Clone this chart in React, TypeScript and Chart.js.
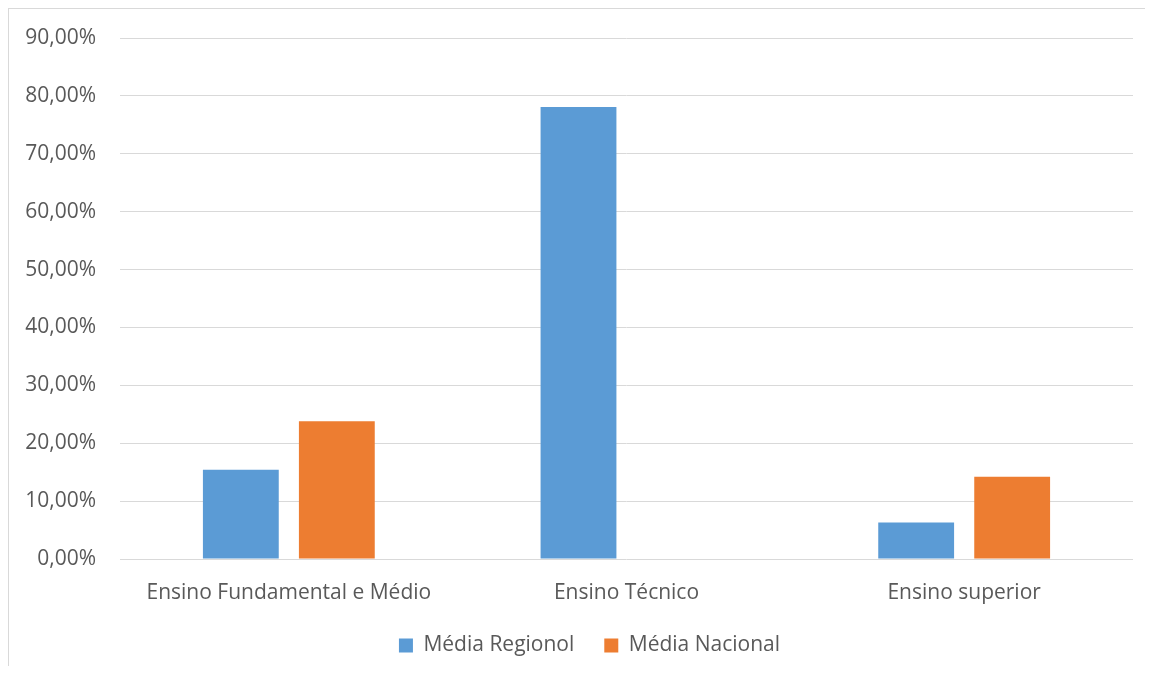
import React, { useEffect, useRef } from "react";
import { Chart, registerables } from "chart.js";

Chart.register(...registerables);

const categories = ["Ensino Fundamental e Médio", "Ensino Técnico", "Ensino superior"];
const seriesNames = ["Média Regionol", "Média Nacional"];
const mediaRegional = [15.4, 78.1, 6.3];
const mediaNacional = [23.8, 0, 14.2];
const yTicksMax = 90;
const yTickStep = 10;

const BLUE = "#5B9BD5";
const ORANGE = "#ED7D31";
const GRID = "#D9D9D9";
const TEXT = "#595959";
const FONT = "'Open Sans', sans-serif";

export default function App() {
  const ref = useRef<HTMLCanvasElement | null>(null);

  useEffect(() => {
    if (!ref.current) return;
    const chart = new Chart(ref.current, {
      type: "bar",
      data: {
        labels: categories,
        datasets: [
          {
            label: seriesNames[0],
            data: mediaRegional,
            backgroundColor: BLUE,
            borderWidth: 0,
            categoryPercentage: 0.5686,
            barPercentage: 0.79,
          },
          {
            label: seriesNames[1],
            data: mediaNacional,
            backgroundColor: ORANGE,
            borderWidth: 0,
            categoryPercentage: 0.5686,
            barPercentage: 0.79,
          },
        ],
      },
      options: {
        animation: false,
        responsive: false,
        maintainAspectRatio: false,
        layout: { padding: { top: 29, right: 0, bottom: 0, left: 0 } },
        plugins: {
          legend: {
            position: "bottom",
            labels: {
              color: TEXT,
              font: { family: FONT, size: 21 },
              boxWidth: 14,
              boxHeight: 14,
              padding: 30,
            },
          },
          tooltip: { enabled: false },
        },
        scales: {
          x: {
            grid: { display: false },
            border: { display: false },
            ticks: {
              color: TEXT,
              font: { family: FONT, size: 21 },
              padding: 13,
              maxRotation: 0,
            },
            afterFit: (s: any) => {
              s.height = 46;
            },
          },
          y: {
            min: 0,
            max: yTicksMax,
            border: { display: false },
            grid: {
              color: GRID,
              lineWidth: 1,
              drawTicks: true,
              tickLength: 24,
              tickColor: "rgba(0,0,0,0)",
            },
            ticks: {
              stepSize: yTickStep,
              color: TEXT,
              font: { family: FONT, size: 21 },
              padding: 0,
              callback: (v: any) => Number(v).toFixed(2).replace(".", ",") + "%",
            },
            afterFit: (s: any) => {
              s.width = 111;
            },
          },
          yRightSpace: {
            position: "right",
            display: true,
            min: 0,
            max: yTicksMax,
            border: { display: false },
            grid: { display: false, drawTicks: false },
            ticks: { display: false },
            afterFit: (s: any) => {
              s.width = 37;
            },
          },
        },
      },
    });
    return () => chart.destroy();
  }, []);

  return (
    <div
      style={{
        width: 1136,
        height: 657,
        borderLeft: "1px solid #D9D9D9",
        borderTop: "1px solid #D9D9D9",
        overflow: "hidden",
      }}
    >
      <canvas ref={ref} width={1161} height={657} style={{ display: "block" }} />
    </div>
  );
}
